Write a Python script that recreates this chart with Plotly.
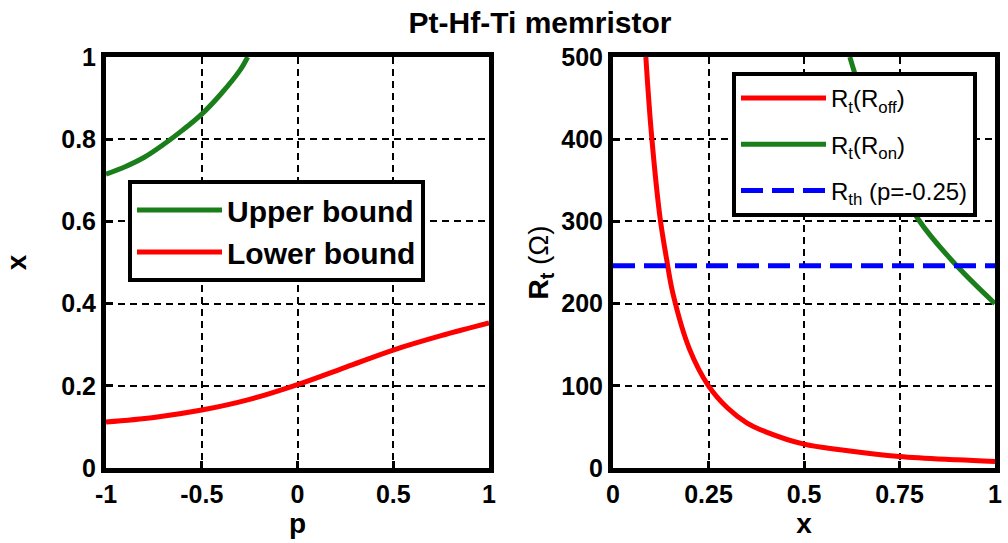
import plotly.graph_objects as go

# ---- data ----
p_upper = [-1.0, -0.9, -0.8, -0.7, -0.6, -0.5, -0.4, -0.3, -0.26]
x_upper = [0.715, 0.733, 0.756, 0.787, 0.822, 0.861, 0.91, 0.968, 1.0]

p_lower = [-1.0, -0.75, -0.5, -0.25, 0.0, 0.25, 0.5, 0.75, 1.0]
x_lower = [0.112, 0.123, 0.141, 0.167, 0.203, 0.245, 0.287, 0.322, 0.353]

x_roff = [0.086, 0.10, 0.123, 0.14, 0.157, 0.2, 0.25, 0.3, 0.35, 0.4, 0.5, 0.6, 0.75, 0.9, 1.0]
r_roff = [500, 410, 305, 255, 212, 145, 100, 73, 55, 44, 29, 22, 14, 10, 8]

x_ron = [0.62, 0.70, 0.80, 0.90, 1.0]
r_ron = [500, 390, 302, 246, 200]

x_rth = [0.0, 1.0]
r_rth = [246, 246]

left_xticks = [-1, -0.5, 0, 0.5, 1]
left_xtext = ["-1", "-0.5", "0", "0.5", "1"]
left_yticks = [0, 0.2, 0.4, 0.6, 0.8, 1]
left_ytext = ["0", "0.2", "0.4", "0.6", "0.8", "1"]
right_xticks = [0, 0.25, 0.5, 0.75, 1]
right_xtext = ["0", "0.25", "0.5", "0.75", "1"]
right_yticks = [0, 100, 200, 300, 400, 500]
right_ytext = ["0", "100", "200", "300", "400", "500"]

FONT = "Liberation Sans, Arial, sans-serif"
GREEN = "#1a7f1a"
RED = "#ff0000"
BLUE = "#0000ff"

fig = go.Figure()

fig.add_trace(go.Scatter(x=p_upper, y=x_upper, mode="lines", name="Upper bound",
                         line=dict(color=GREEN, width=5, shape="spline"), xaxis="x", yaxis="y",
                         legend="legend", legendgroup="a"))
fig.add_trace(go.Scatter(x=p_lower, y=x_lower, mode="lines", name="Lower bound",
                         line=dict(color=RED, width=5, shape="spline"), xaxis="x", yaxis="y",
                         legend="legend", legendgroup="b"))

fig.add_trace(go.Scatter(x=x_roff, y=r_roff, mode="lines", name="R<sub>t</sub>(R<sub>off</sub>)",
                         line=dict(color=RED, width=5, shape="spline"), xaxis="x2", yaxis="y2",
                         legend="legend2", legendgroup="c"))
fig.add_trace(go.Scatter(x=x_ron, y=r_ron, mode="lines", name="R<sub>t</sub>(R<sub>on</sub>)",
                         line=dict(color=GREEN, width=5, shape="spline"), xaxis="x2", yaxis="y2",
                         legend="legend2", legendgroup="d"))
fig.add_trace(go.Scatter(x=x_rth, y=r_rth, mode="lines", name="R<sub>th</sub> (p=-0.25)",
                         line=dict(color=BLUE, width=5, dash="22px,9px"), xaxis="x2", yaxis="y2",
                         legend="legend2", legendgroup="e"))

tickfont = dict(family=FONT, size=25, color="black", weight="bold")
axis_common = dict(
    showline=True, linewidth=5, linecolor="black", mirror=True,
    showgrid=True, gridcolor="black", gridwidth=2, griddash="7px,5px",
    zeroline=False, ticks="inside", ticklen=7, tickwidth=3, tickcolor="black",
    tickfont=tickfont, automargin=False,
)

ydom = [1 - 468 / 543, 1 - 57 / 543]

fig.update_layout(
    width=1008, height=543,
    margin=dict(l=0, r=0, t=0, b=0),
    paper_bgcolor="white", plot_bgcolor="white",
    font=dict(family=FONT, color="black"),
    title=dict(text="<b>Pt-Hf-Ti memristor</b>", x=540 / 1008, xanchor="center",
               y=1 - 22 / 543, yanchor="middle", yref="container",
               font=dict(family=FONT, size=30, color="black")),
    xaxis=dict(domain=[106 / 1008, 489 / 1008], range=[-1, 1], anchor="y",
               tickvals=left_xticks, ticktext=left_xtext,
               title=dict(text="<b>p</b>", standoff=0, font=dict(family=FONT, size=28)),
               **axis_common),
    yaxis=dict(domain=ydom, range=[0, 1], anchor="x",
               tickvals=left_yticks, ticktext=left_ytext,
               title=dict(text="<b>x</b>", standoff=28, font=dict(family=FONT, size=28)),
               **axis_common),
    xaxis2=dict(domain=[613 / 1008, 995 / 1008], range=[0, 1], anchor="y2",
                tickvals=right_xticks, ticktext=right_xtext,
                title=dict(text="<b>x</b>", standoff=0, font=dict(family=FONT, size=28)),
                **axis_common),
    yaxis2=dict(domain=ydom, range=[0, 500], anchor="x2",
                tickvals=right_yticks, ticktext=right_ytext,
                title=dict(text="<b>R<sub>t</sub></b> (Ω)",
                           standoff=6, font=dict(family=FONT, size=28)),
                **axis_common),
    legend=dict(x=128 / 1008, y=1 - 180 / 543, xanchor="left", yanchor="top",
                bgcolor="white", bordercolor="black", borderwidth=4,
                font=dict(family=FONT, size=30, color="black", weight="bold"),
                itemwidth=85, tracegroupgap=0, traceorder="grouped"),
    legend2=dict(x=732 / 1008, y=1 - 72 / 543, xanchor="left", yanchor="top",
                 bgcolor="white", bordercolor="black", borderwidth=4,
                 font=dict(family=FONT, size=24, color="black"),
                 itemwidth=85, tracegroupgap=12, traceorder="grouped"),
    showlegend=True,
)

fig.write_html("out.html")
